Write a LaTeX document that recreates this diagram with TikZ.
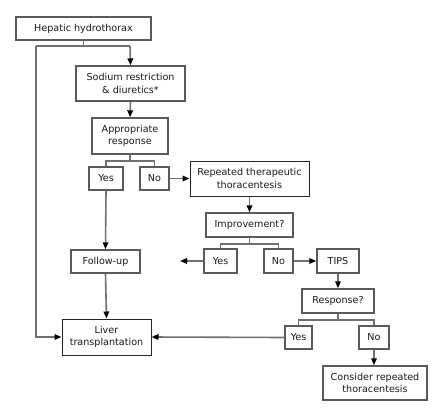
\documentclass[tikz,border=0pt]{standalone}
\usepackage{fontspec}
\setmainfont{DejaVu Sans}
\usetikzlibrary{arrows.meta}
\definecolor{linegray}{HTML}{707070}
\definecolor{boxgray}{HTML}{5A5A5A}
\definecolor{txt}{HTML}{1A1A1A}
\begin{document}
\begin{tikzpicture}[x=1pt,y=-1pt,
  box/.style={draw=boxgray,line width=1.4pt,fill=white,text=txt,align=center,
    inner sep=0pt,font=\fontsize{9.6}{12.5}\selectfont},
  darkbox/.style={box,draw=black!85,line width=1pt},
  conn/.style={draw=linegray,line width=1.6pt},
  arr/.style={conn,-{Triangle[length=7pt,width=5.5pt,fill=black,color=black]}}]
\useasboundingbox (0,0) rectangle (441,415);

% boxes
\node[box,minimum width=135pt,minimum height=23pt] (hep) at (83.5,28.5) {Hepatic hydrothorax};
\node[box,minimum width=109pt,minimum height=35pt] (sod) at (130.5,83.5) {Sodium restriction\\\& diuretics*};
\node[box,minimum width=76pt,minimum height=36pt] (app) at (130,136) {Appropriate\\response};
\node[box,minimum width=34pt,minimum height=23pt] (yesA) at (106,178.5) {Yes};
\node[box,minimum width=29pt,minimum height=23pt] (noA) at (154.5,178.5) {No};
\node[darkbox,minimum width=119pt,minimum height=35pt] (rep) at (249.5,178.5) {Repeated therapeutic\\thoracentesis};
\node[box,minimum width=87pt,minimum height=24pt] (imp) at (249.5,225) {Improvement?};
\node[box,minimum width=33pt,minimum height=24pt] (yesB) at (220.5,261) {Yes};
\node[box,minimum width=29pt,minimum height=24pt] (noB) at (278.5,261) {No};
\node[box,minimum width=42pt,minimum height=24pt] (tips) at (338,261) {TIPS};
\node[box,minimum width=69pt,minimum height=23pt] (fol) at (105.5,261.5) {Follow-up};
\node[box,minimum width=72pt,minimum height=24pt] (resp) at (338,301) {Response?};
\node[box,minimum width=27pt,minimum height=23pt] (yesC) at (298.5,337.5) {Yes};
\node[box,minimum width=30pt,minimum height=23pt] (noC) at (374,337.5) {No};
\node[darkbox,minimum width=89pt,minimum height=36pt] (liv) at (106.5,337) {Liver\\transplantation};
\node[box,minimum width=104pt,minimum height=34pt] (con) at (375,383) {Consider repeated\\thoracentesis};

% split below the first box
\coordinate (splitL) at (36,46);
\coordinate (splitR) at (130,46);
\draw[conn] (hep.south) -- (hep.south |- splitL);
\draw[conn] (splitL) -- (splitR);
\draw[arr] (splitR) -- (sod.north);
\draw[arr] (splitL) |- (liv.west);

\draw[arr] (sod.south) -- (app.north);

% branches
\draw[conn] (app.south) -- ++(0,6) -| (yesA.north);
\draw[conn] (app.south) ++(0,6) -| (noA.north);
\draw[arr] (noA.east) -- (rep.west);
\draw[arr] (yesA.south) -- (fol.north);
\draw[arr] (fol.south) -- (liv.north);

\draw[arr] (rep.south) -- (imp.north);
\draw[conn] (imp.south) -- ++(0,6) -| (yesB.north);
\draw[conn] (imp.south) ++(0,6) -| (noB.north);
\coordinate (yesBend) at (180,261);
\draw[arr] (yesB.west) -- (yesBend);
\draw[arr] (noB.east) -- (tips.west);

\draw[arr] (tips.south) -- (resp.north);
\draw[conn] (resp.south) -- ++(0,6) -| (yesC.north);
\draw[conn] (resp.south) ++(0,6) -| (noC.north);
\draw[arr] (yesC.west) -- (liv.east);
\draw[arr] (noC.south) -- (noC.south |- con.north);
\end{tikzpicture}
\end{document}
